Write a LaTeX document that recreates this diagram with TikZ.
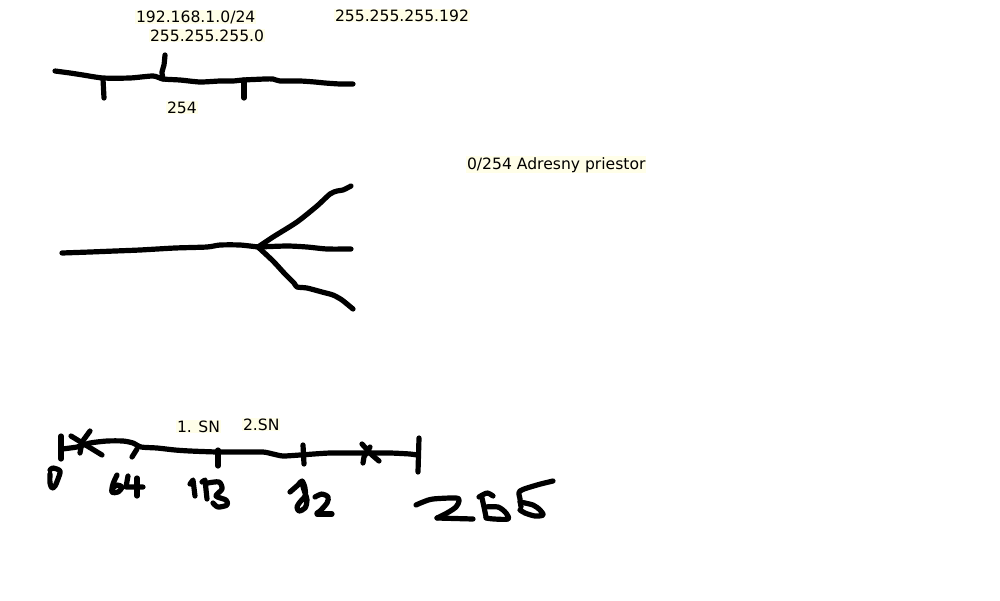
\documentclass[tikz,border=0pt]{standalone}
\usepackage{fontspec}
\setmainfont{DejaVu Sans}
\begin{document}
\begin{tikzpicture}[x=1pt,y=-1pt,
  pen/.style={line width=5.2pt,line cap=round,line join=round,black},
  lbl/.style={anchor=base west,inner sep=0.8pt,fill=yellow!9,font=\fontsize{15.6}{18}\selectfont,text=black}]
\path[fill=white] (0,0) rectangle (1000,600);
% ---------- top sketch ----------
\draw[pen] plot[smooth,tension=0.4] coordinates {(55,71) (70,73) (83,75) (103,78) (130,78) (153,76) (163,79) (180,80) (200,82) (220,81) (233,81) (243,80) (265,79) (273,79) (280,81) (300,81) (315,82) (325,83) (340,84) (353,84)};
\draw[pen] (103,79) -- (104,98);
\draw[pen] plot[smooth,tension=0.4] coordinates {(165,55) (164,65) (162,72) (163,79)};
\draw[pen] (244,80) -- (244,98);
\node[lbl] (net) at (135,22) {192.168.1.0/24};
\node[lbl] (mask) at (149,41) {255.255.255.0};
\node[lbl] (mask2) at (334,21) {255.255.255.192};
\node[lbl] (hosts) at (166,113) {254};
% ---------- middle tree ----------
\draw[pen] plot[smooth,tension=0.4] coordinates {(62,253) (90,252) (115,251) (140,250) (175,248) (207,247) (220,245) (240,245) (258,247)};
\draw[pen] plot[smooth,tension=0.4] coordinates {(258,247) (273,237) (297,222) (317,206) (330,194) (337,191) (343,190) (351,186)};
\draw[pen] plot[smooth,tension=0.4] coordinates {(258,247) (287,246) (307,247) (327,249) (351,249)};
\draw[pen] plot[smooth,tension=0.4] coordinates {(258,247) (273,261) (285,274) (294,283) (297,287) (307,288) (322,292) (333,295) (342,300) (353,309)};
\node[lbl] (space) at (466,169) {0/254 Adresny priestor};
% ---------- bottom scale ----------
\draw[pen] plot[smooth,tension=0.4] coordinates {(62,449) (77,447) (90,443) (107,441) (123,441) (133,443) (141,447) (157,448) (175,450) (190,451) (217,452) (240,452) (263,452) (273,454) (283,456) (300,455) (330,453) (363,453) (390,453) (410,454) (417,455)};
\draw[pen] (61,436) -- (61,459);
\draw[pen] (419,438) -- (418,472);
\draw[pen] (137,449) -- (132,457);
\draw[pen] (218,450) -- (218,466);
\draw[pen] (303,445) -- (304,464);
% crosses
\draw[pen] (71,436) -- (102,455);
\draw[pen] (90,431) -- (82,442) -- (80,453);
\draw[pen] (362,444) -- (372,455) -- (379,461);
\draw[pen] (370,447) -- (364,457) -- (363,463);
% handwritten numbers
% 0
\draw[pen] plot[smooth,tension=0.5] coordinates {(50,470) (53,468) (60,471) (58,479) (55,486) (52,488) (50,483) (50,474)};
% 64
\draw[pen] plot[smooth,tension=0.5] coordinates {(117,475) (113,484) (112,492) (118,492) (122,487) (117,485) (113,488)};
\draw[pen] (128,476) -- (126,487) -- (143,487);
\draw[pen] (137,478) -- (137,496);
% 128
\draw[pen] (190,484) -- (193,480) -- (195,496);
\draw[pen] (202,482) -- (205,480) -- (207,499);
\draw[pen] plot[smooth,tension=0.5] coordinates {(208,483) (219,482) (222,489) (216,496) (226,500) (227,505) (218,507) (213,503)};
% 192
\draw[pen] plot[smooth,tension=0.5] coordinates {(290,492) (298,485) (302,481) (305,488) (305,496) (300,502) (297,507) (299,511) (305,508) (307,500) (304,490) (302,483)};
\draw[pen] plot[smooth,tension=0.5] coordinates {(315,497) (322,494) (328,497) (327,503) (320,511) (317,513)};
\draw[pen] (317,514) -- (332,514);
% 255
\draw[pen] plot[smooth,tension=0.5] coordinates {(416,505) (423,502) (433,499) (456,498) (459,501) (456,507) (447,513) (437,518)};
\draw[pen] (437,518) -- (473,519);
\draw[pen] plot[smooth,tension=0.5] coordinates {(479,497) (487,493) (493,496)};
\draw[pen] plot[smooth,tension=0.5] coordinates {(482,498) (484,507) (486,517)};
\draw[pen] plot[smooth,tension=0.5] coordinates {(485,507) (498,507) (506,513) (508,519) (494,519) (486,518)};
\draw[pen] plot[smooth,tension=0.5] coordinates {(553,481) (537,485) (520,491) (520,499) (521,507)};
\draw[pen] plot[smooth,tension=0.5] coordinates {(520,502) (533,505) (540,510) (543,515) (535,516) (525,513) (520,510)};
\node[lbl] (sn1) at (176,432) {1. SN};
\node[lbl] (sn2) at (242,430) {2.SN};
\end{tikzpicture}
\end{document}
